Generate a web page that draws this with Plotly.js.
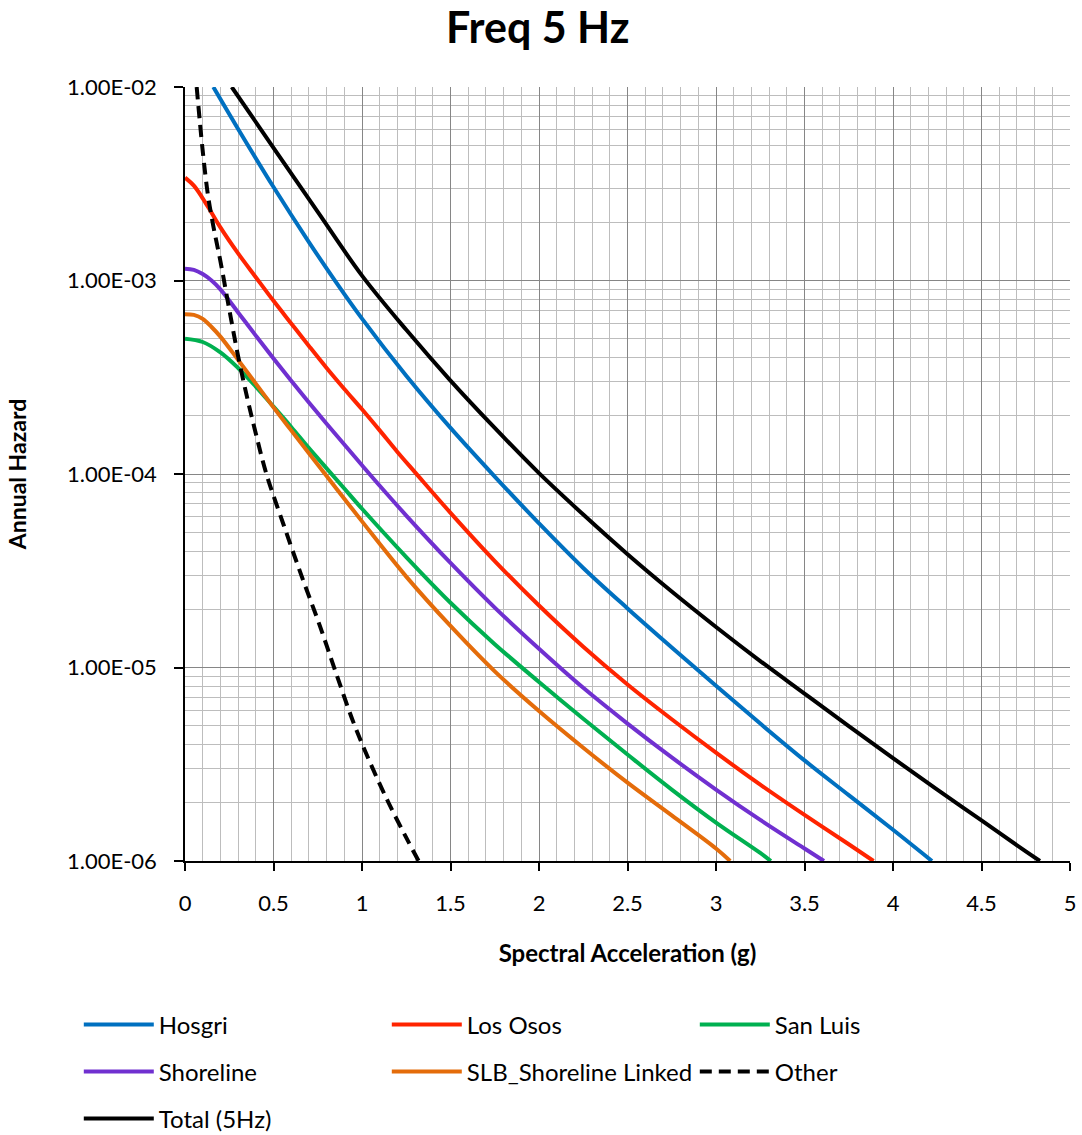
<!DOCTYPE html>
<html><head><meta charset="utf-8">
<script src="https://cdn.plot.ly/plotly-3.0.1.min.js"></script>
<style>body{margin:0;background:#fff}</style>
</head><body><div id="chart" style="width:1082px;height:1135px"></div>
<script>
// Spectral acceleration (g) and annual hazard
const hosgriX = [0.16, 0.3, 0.5, 0.7, 0.85, 1.0, 1.25, 1.5, 1.75, 2.0, 2.25, 2.5, 2.75, 3.0, 3.25, 3.5, 3.75, 4.0, 4.22];
const hosgriY = [1.0e-2, 6.07e-3, 3.04e-3, 1.58e-3, 9.9e-4, 6.35e-4, 3.22e-4, 1.73e-4, 9.7e-5, 5.56e-5, 3.27e-5, 2.02e-5, 1.27e-5, 8.04e-6, 5.13e-6, 3.31e-6, 2.19e-6, 1.45e-6, 1.0e-6];

const losOsosX = [0, 0.05, 0.1, 0.15, 0.2, 0.3, 0.4, 0.5, 0.6, 0.7, 0.8, 0.9, 1.0, 1.1, 1.2, 1.3, 1.5, 1.75, 2.0, 2.25, 2.5, 2.75, 3.0, 3.25, 3.5, 3.75, 3.89];
const losOsosY = [3.4e-3, 3.09e-3, 2.66e-3, 2.24e-3, 1.88e-3, 1.38e-3, 1.04e-3, 7.85e-4, 6.0e-4, 4.59e-4, 3.53e-4, 2.75e-4, 2.16e-4, 1.68e-4, 1.30e-4, 1.02e-4, 6.3e-5, 3.55e-5, 2.09e-5, 1.28e-5, 8.17e-6, 5.4e-6, 3.63e-6, 2.48e-6, 1.73e-6, 1.22e-6, 1.0e-6];

const sanLuisX = [0, 0.1, 0.2, 0.3, 0.4, 0.5, 0.6, 0.7, 0.8, 0.9, 1.0, 1.25, 1.5, 1.75, 2.0, 2.25, 2.5, 2.75, 3.0, 3.25, 3.31];
const sanLuisY = [5.0e-4, 4.81e-4, 4.25e-4, 3.53e-4, 2.83e-4, 2.23e-4, 1.75e-4, 1.36e-4, 1.07e-4, 8.41e-5, 6.61e-5, 3.72e-5, 2.16e-5, 1.32e-5, 8.41e-6, 5.43e-6, 3.55e-6, 2.34e-6, 1.58e-6, 1.10e-6, 1.0e-6];

const shorelineX = [0, 0.05, 0.1, 0.15, 0.2, 0.3, 0.4, 0.5, 0.6, 0.7, 0.8, 0.9, 1.0, 1.1, 1.25, 1.5, 1.75, 2.0, 2.25, 2.5, 2.75, 3.0, 3.25, 3.5, 3.61];
const shorelineY = [1.15e-3, 1.135e-3, 1.08e-3, 1.0e-3, 9.0e-4, 6.84e-4, 5.19e-4, 3.95e-4, 3.03e-4, 2.34e-4, 1.82e-4, 1.42e-4, 1.11e-4, 8.7e-5, 6.1e-5, 3.47e-5, 2.04e-5, 1.25e-5, 7.85e-6, 5.13e-6, 3.43e-6, 2.34e-6, 1.63e-6, 1.16e-6, 1.0e-6];

const slbX = [0, 0.05, 0.1, 0.15, 0.2, 0.3, 0.4, 0.5, 0.6, 0.7, 0.8, 0.9, 1.0, 1.25, 1.5, 1.75, 2.0, 2.25, 2.5, 2.75, 3.0, 3.08];
const slbY = [6.7e-4, 6.64e-4, 6.34e-4, 5.75e-4, 5.13e-4, 3.89e-4, 2.93e-4, 2.21e-4, 1.68e-4, 1.28e-4, 9.77e-5, 7.45e-5, 5.69e-5, 2.95e-5, 1.64e-5, 9.55e-6, 5.96e-6, 3.85e-6, 2.54e-6, 1.72e-6, 1.16e-6, 1.0e-6];

const otherX = [0.066, 0.1, 0.13, 0.16, 0.2, 0.25, 0.3, 0.35, 0.4, 0.46, 0.56, 0.66, 0.76, 0.85, 0.95, 1.05, 1.15, 1.25, 1.32];
const otherY = [1.0e-2, 4.68e-3, 2.75e-3, 1.91e-3, 1.26e-3, 7.1e-4, 4.07e-4, 2.51e-4, 1.62e-4, 1.0e-4, 5.37e-5, 2.95e-5, 1.66e-5, 9.55e-6, 5.25e-6, 3.16e-6, 2.0e-6, 1.32e-6, 1.0e-6];

const totalX = [0.264, 0.5, 0.75, 1.0, 1.25, 1.5, 1.75, 2.0, 2.25, 2.5, 2.75, 3.0, 3.25, 3.5, 3.75, 4.0, 4.25, 4.5, 4.75, 4.83];
const totalY = [1.0e-2, 4.85e-3, 2.26e-3, 1.06e-3, 5.56e-4, 3.04e-4, 1.73e-4, 1.01e-4, 6.17e-5, 3.85e-5, 2.47e-5, 1.62e-5, 1.08e-5, 7.33e-6, 4.98e-6, 3.40e-6, 2.34e-6, 1.62e-6, 1.12e-6, 1.0e-6];

const seriesNames = ['Hosgri', 'Los Osos', 'San Luis', 'Shoreline', 'SLB_Shoreline Linked', 'Other', 'Total (5Hz)'];

const yTickVals = [1e-6, 1e-5, 1e-4, 1e-3, 1e-2];
const yTickText = ['1.00E-06', '1.00E-05', '1.00E-04', '1.00E-03', '1.00E-02'];
const xTickVals = [0, 0.5, 1, 1.5, 2, 2.5, 3, 3.5, 4, 4.5, 5];
const xTickText = ['0', '0.5', '1', '1.5', '2', '2.5', '3', '3.5', '4', '4.5', '5'];

const FONT = 'Lato, "DejaVu Sans", sans-serif';

function tr(x, y, name, color, legend, dash) {
  return {
    x: x, y: y, name: name, type: 'scatter', mode: 'lines',
    line: {color: color, width: 4, shape: 'spline', smoothing: 1, dash: dash || 'solid'},
    legend: legend, hoverinfo: 'x+y+name'
  };
}

const data = [
  tr(hosgriX, hosgriY, seriesNames[0], '#0070C0', 'legend'),
  tr(losOsosX, losOsosY, seriesNames[1], '#FF2400', 'legend'),
  tr(sanLuisX, sanLuisY, seriesNames[2], '#00B050', 'legend'),
  tr(shorelineX, shorelineY, seriesNames[3], '#7030D0', 'legend2'),
  tr(slbX, slbY, seriesNames[4], '#E46C0A', 'legend2'),
  tr(otherX, otherY, seriesNames[5], '#000000', 'legend2', '12px,7px'),
  tr(totalX, totalY, seriesNames[6], '#000000', 'legend3')
];

const legendBase = {
  orientation: 'h', xref: 'paper', yref: 'paper', x: -0.12, xanchor: 'left', yanchor: 'middle',
  entrywidth: 223, entrywidthmode: 'pixels', itemwidth: 70,
  font: {family: FONT, size: 24, color: '#000'}, bgcolor: 'rgba(0,0,0,0)', traceorder: 'normal'
};

const layout = {
  width: 1082, height: 1135,
  margin: {l: 185, r: 12, t: 87, b: 274, autoexpand: false},
  paper_bgcolor: '#fff', plot_bgcolor: '#fff',
  font: {family: FONT, size: 22, color: '#000'},
  title: {text: '<b>Freq 5 Hz</b>', font: {family: FONT, size: 43, color: '#000'},
          xref: 'container', yref: 'container', x: 0.497, y: 1 - 28 / 1135, xanchor: 'center', yanchor: 'middle'},
  xaxis: {
    range: [0, 5], tickmode: 'array', tickvals: xTickVals, ticktext: xTickText,
    ticks: 'outside', ticklen: 8, tickwidth: 1.5, tickcolor: '#000',
    showline: true, linecolor: '#000', linewidth: 1.5, zeroline: false,
    showgrid: true, gridcolor: '#868686', gridwidth: 1,
    minor: {dtick: 0.1, tick0: 0, showgrid: true, gridcolor: '#bdbdbd', gridwidth: 1, ticks: ''},
    tickfont: {family: FONT, size: 22, color: '#000'}, ticklabelstandoff: 14,
    title: {text: '<b>Spectral Acceleration (g)</b>', font: {family: FONT, size: 24, color: '#000'}, standoff: 30}
  },
  yaxis: {
    type: 'log', range: [-6, -2], tickmode: 'array', tickvals: yTickVals, ticktext: yTickText,
    ticks: 'outside', ticklen: 9, tickwidth: 1.5, tickcolor: '#000',
    showline: true, linecolor: '#000', linewidth: 1.5, zeroline: false,
    showgrid: true, gridcolor: '#868686', gridwidth: 1,
    minor: {dtick: 'D1', showgrid: true, gridcolor: '#bdbdbd', gridwidth: 1, ticks: ''},
    tickfont: {family: FONT, size: 22, color: '#000'}, ticklabelstandoff: 13,
    title: {text: '<b>Annual Hazard</b>', font: {family: FONT, size: 23, color: '#000'}, standoff: 34}
  },
  legend: Object.assign({}, legendBase, {y: (861 - 1025) / 774}),
  legend2: Object.assign({}, legendBase, {y: (861 - 1072) / 774}),
  legend3: Object.assign({}, legendBase, {y: (861 - 1119) / 774}),
  showlegend: true
};

Plotly.newPlot('chart', data, layout, {displayModeBar: false, responsive: false});
</script>
</body></html>
